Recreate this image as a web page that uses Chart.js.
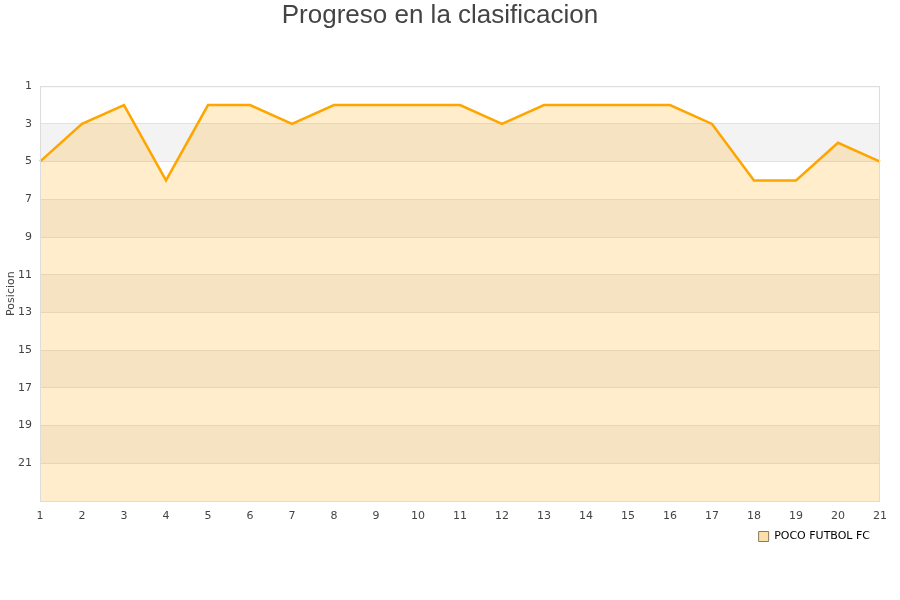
<!DOCTYPE html>
<html>
<head>
<meta charset="utf-8">
<script src="https://cdn.jsdelivr.net/npm/chart.js@4/dist/chart.umd.min.js"></script>
<style>
  html, body { margin: 0; padding: 0; background: #fff; }
  #wrap { width: 900px; height: 600px; }
</style>
</head>
<body>
<div id="wrap"><canvas id="graphCanvas" width="900" height="600"></canvas></div>
<script>
// jornadas y posiciones
var jornadas = [1, 2, 3, 4, 5, 6, 7, 8, 9, 10, 11, 12, 13, 14, 15, 16, 17, 18, 19, 20, 21];
var posiciones = [5, 3, 2, 6, 2, 2, 3, 2, 2, 2, 2, 3, 2, 2, 2, 2, 3, 6, 6, 4, 5];
var equipo = 'POCO FUTBOL FC';
var posMin = 1;
var posMax = 23;

// franjas grises alternas y marco del area
var bandas = {
    id: 'bandas',
    beforeDraw: function (chart) {
        var ctx = chart.ctx;
        var area = chart.chartArea;
        var y = chart.scales.y;
        ctx.save();
        ctx.fillStyle = '#f3f3f3';
        for (var v = posMin + 2; v < posMax; v += 4) {
            var top = y.getPixelForValue(v);
            var bot = y.getPixelForValue(Math.min(v + 2, posMax));
            ctx.fillRect(area.left, top, area.right - area.left, bot - top);
        }
        ctx.restore();
    },
    afterDraw: function (chart) {
        var ctx = chart.ctx;
        var area = chart.chartArea;
        ctx.save();
        ctx.strokeStyle = '#dcdcdc';
        ctx.lineWidth = 1;
        ctx.strokeRect(area.left + 0.5, area.top + 0.5, area.right - area.left - 1, area.bottom - area.top);
        ctx.restore();
    }
};

var chartdata = {
    labels: jornadas,
    datasets: [
        {
            label: equipo,
            data: posiciones,
            borderColor: '#FFA500',
            backgroundColor: 'rgba(255,165,0,0.2)',
            borderWidth: 2.5,
            pointRadius: 0,
            tension: 0,
            fill: { value: posMax }
        }
    ]
};

var graphTarget = document.getElementById('graphCanvas');

var lineGraph = new Chart(graphTarget, {
    type: 'line',
    data: chartdata,
    plugins: [bandas],
    options: {
        responsive: false,
        animation: false,
        layout: { padding: { top: 0, left: 0, right: 20, bottom: 48 } },
        plugins: {
            title: {
                display: true,
                text: 'Progreso en la clasificacion',
                color: '#444',
                font: { family: 'Liberation Sans, Arial, sans-serif', size: 26, weight: 'normal' },
                padding: { top: 0, bottom: 55 }
            },
            legend: {
                position: 'bottom',
                align: 'end',
                labels: {
                    boxWidth: 10,
                    boxHeight: 10,
                    padding: 10,
                    color: '#111',
                    font: { family: 'DejaVu Sans, sans-serif', size: 11 },
                    generateLabels: function (chart) {
                        return chart.data.datasets.map(function (ds, i) {
                            return {
                                text: ds.label,
                                fillStyle: 'rgba(255,220,160,0.9)',
                                strokeStyle: '#8a7a60',
                                lineWidth: 1,
                                datasetIndex: i
                            };
                        });
                    }
                }
            },
            tooltip: { enabled: false }
        },
        scales: {
            x: {
                offset: false,
                grid: { display: false },
                border: { display: false },
                ticks: {
                    color: '#444',
                    font: { family: 'DejaVu Sans, sans-serif', size: 11 },
                    maxRotation: 0,
                    autoSkip: false,
                    padding: 1
                },
                afterFit: function (scale) { scale.height = 20; }
            },
            y: {
                reverse: true,
                min: posMin,
                max: posMax,
                grid: { color: '#e2e2e2', drawTicks: false },
                border: { display: false },
                title: {
                    display: true,
                    text: 'Posicion',
                    color: '#444',
                    font: { family: 'DejaVu Sans, sans-serif', size: 11 },
                    padding: { top: 5, bottom: 0 }
                },
                ticks: {
                    stepSize: 2,
                    color: '#444',
                    padding: 8,
                    font: { family: 'DejaVu Sans, sans-serif', size: 11 },
                    callback: function (v) { return v === posMax ? '' : v; }
                },
                afterFit: function (scale) { scale.width = 40; }
            }
        }
    }
});
</script>
</body>
</html>
